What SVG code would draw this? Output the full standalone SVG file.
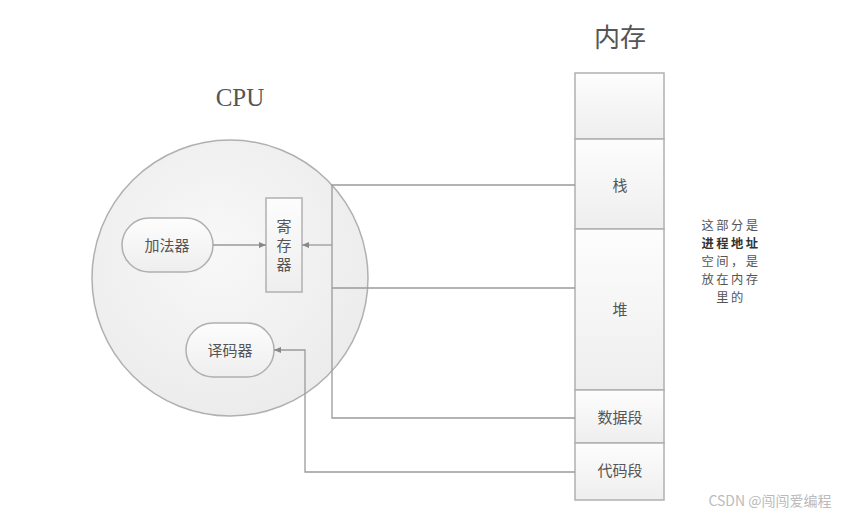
<svg xmlns="http://www.w3.org/2000/svg" width="846" height="515" viewBox="0 0 846 515">
<style>
.cjk{font-family:"Noto Sans CJK SC","Liberation Sans",sans-serif;fill:#555;text-anchor:middle}
.note{font-size:12.3px;letter-spacing:2.5px}
.shape{stroke:#b0b0b0;stroke-width:1.5}
.conn{fill:none;stroke:#9a9a9a;stroke-width:1.3}
</style>
<defs>
<linearGradient id="g" x1="0" y1="0" x2="0" y2="1">
<stop offset="0" stop-color="#fdfdfd"/><stop offset="1" stop-color="#eeeeee"/>
</linearGradient>
<radialGradient id="rg" cx="0.45" cy="0.4" r="0.65">
<stop offset="0" stop-color="#f8f8f8"/><stop offset="1" stop-color="#ebebeb"/>
</radialGradient>
<marker id="ah" markerWidth="8" markerHeight="8" refX="7" refY="4" orient="auto" markerUnits="userSpaceOnUse">
<path d="M0,1 L7,4 L0,7 Z" fill="#888"/>
</marker>
</defs>
<rect width="846" height="515" fill="#fff"/>

<g id="cpu">
<circle cx="230" cy="278" r="138" fill="url(#rg)" class="shape"/>
<text x="240" y="106" font-family="Liberation Serif,serif" font-size="25" fill="#555" text-anchor="middle">CPU</text>
</g>

<g id="adder">
<rect x="122" y="218" width="91" height="54" rx="27" fill="url(#g)" class="shape"/>
<text x="167" y="251" class="cjk" font-size="15">加法器</text>
</g>

<g id="register">
<rect x="266" y="198" width="36" height="94" fill="url(#g)" class="shape"/>
<text x="284" y="232" class="cjk" font-size="15">寄</text>
<text x="284" y="251" class="cjk" font-size="15">存</text>
<text x="284" y="270" class="cjk" font-size="15">器</text>
</g>

<g id="decoder">
<rect x="186" y="323" width="88" height="54" rx="27" fill="url(#g)" class="shape"/>
<text x="230" y="356" class="cjk" font-size="15">译码器</text>
</g>

<g id="memory">
<text x="620" y="47" class="cjk" font-size="26">内存</text>
<rect x="575" y="73" width="89" height="66" fill="url(#g)" class="shape"/>
<rect x="575" y="139" width="89" height="90" fill="url(#g)" class="shape"/>
<text x="620" y="191" class="cjk" font-size="15">栈</text>
<rect x="575" y="229" width="89" height="161" fill="url(#g)" class="shape"/>
<text x="620" y="315" class="cjk" font-size="15">堆</text>
<rect x="575" y="390" width="89" height="53" fill="url(#g)" class="shape"/>
<text x="620" y="423" class="cjk" font-size="15">数据段</text>
<rect x="575" y="443" width="89" height="57" fill="url(#g)" class="shape"/>
<text x="620" y="476" class="cjk" font-size="15">代码段</text>
</g>

<g id="note">
<text x="731" y="230" class="cjk note">这部分是</text>
<text x="731" y="248" class="cjk note" font-weight="bold" style="fill:#333">进程地址</text>
<text x="731" y="266" class="cjk note">空间，是</text>
<text x="731" y="284" class="cjk note">放在内存</text>
<text x="731" y="302" class="cjk note">里的</text>
</g>

<g id="connectors">
<path class="conn" d="M213,245 H266" marker-end="url(#ah)"/>
<path class="conn" d="M575,185 H332 V418 H575"/>
<path class="conn" d="M575,288 H332"/>
<path class="conn" d="M332,245 H302" marker-end="url(#ah)"/>
<path class="conn" d="M575,472 H305 V350 H274" marker-end="url(#ah)"/>
</g>

<g id="watermark">
<text x="770" y="506" font-family="Noto Sans CJK SC,Liberation Sans,sans-serif" font-size="14" fill="#bbb" text-anchor="middle">CSDN @闯闯爱编程</text>
</g>
</svg>
